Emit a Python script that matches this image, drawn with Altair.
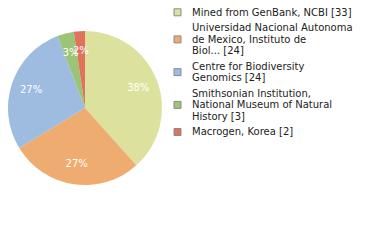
import altair as alt
import pandas as pd

# ---- data ----
names = [
    "Mined from GenBank, NCBI [33]",
    "Universidad Nacional Autonoma de Mexico, Instituto de Biol... [24]",
    "Centre for Biodiversity Genomics [24]",
    "Smithsonian Institution, National Museum of Natural History [3]",
    "Macrogen, Korea [2]",
]
legend_lines = [
    ["Mined from GenBank, NCBI [33]"],
    ["Universidad Nacional Autonoma", "de Mexico, Instituto de", "Biol... [24]"],
    ["Centre for Biodiversity", "Genomics [24]"],
    ["Smithsonian Institution,", "National Museum of Natural", "History [3]"],
    ["Macrogen, Korea [2]"],
]
counts = [33, 24, 24, 3, 2]
pct_labels = ["38%", "27%", "27%", "3%", "2%"]
colors = ["#dce29d", "#efac70", "#9ebbe0", "#9cc476", "#e0735c"]

# ---- layout (styling) ----
CX, CY, R, R_LABEL = 77, 100, 77, 57
FIRST_BASELINE, LINE_H, ENTRY_GAP = 7.6, 11.3, 4.5
SWATCH_X, TEXT_X = 169.5, 184

df = pd.DataFrame({
    "name": names,
    "count": counts,
    "pct": pct_labels,
    "order": list(range(len(names))),
})

rows, sw = [], []
k = 0
for i, lines in enumerate(legend_lines):
    bases = []
    for ln in lines:
        b = FIRST_BASELINE + k * LINE_H + i * ENTRY_GAP
        rows.append({"name": names[i], "line": ln, "pos": b})
        bases.append(b)
        k += 1
    sw.append({"name": names[i], "pos": sum(bases) / len(bases) - 3.3})
leg_text = pd.DataFrame(rows)
leg_sw = pd.DataFrame(sw)

color_scale = alt.Scale(domain=names, range=colors)

base = alt.Chart(df).encode(
    theta=alt.Theta("count:Q", stack=True),
    order=alt.Order("order:Q"),
    x=alt.value(CX),
    y=alt.value(CY),
)

pie = base.mark_arc(outerRadius=R).encode(
    color=alt.Color("name:N", scale=color_scale, legend=None)
)

text = base.mark_text(
    radius=R_LABEL, color="white", font="DejaVu Sans", fontSize=10
).encode(text="pct:N")

swatches = alt.Chart(leg_sw).mark_square(
    size=49, stroke="#8a8a8a", strokeWidth=1, opacity=1
).encode(
    x=alt.value(SWATCH_X),
    y=alt.Y("pos:Q", scale=None),
    fill=alt.Fill("name:N", scale=color_scale, legend=None),
)

labels = alt.Chart(leg_text).mark_text(
    align="left", baseline="alphabetic", font="DejaVu Sans", fontSize=10,
    color="#222222"
).encode(
    x=alt.value(TEXT_X),
    y=alt.Y("pos:Q", scale=None),
    text="line:N",
)

chart = (pie + text + swatches + labels).properties(
    width=364, height=224,
    padding=0,
    autosize=alt.AutoSizeParams(type="none"),
).configure_view(stroke=None)

chart.save("out.html", embed_options={"renderer": "svg", "actions": False})
